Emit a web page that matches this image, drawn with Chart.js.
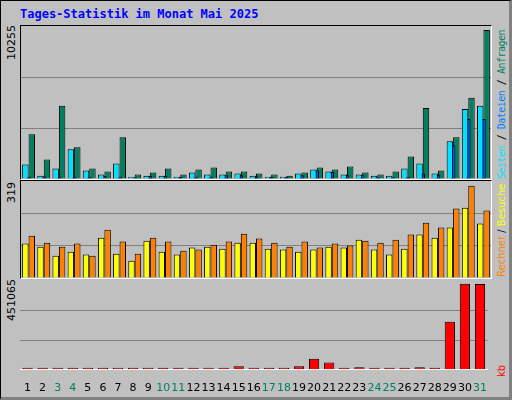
<!DOCTYPE html>
<html>
<head>
<meta charset="utf-8">
<script src="https://cdn.jsdelivr.net/npm/chart.js@4"></script>
<style>
  body { margin: 0; background: #fff; }
  #frame { position: absolute; left: 0; top: 0; width: 508px; height: 396px; background: #c0c0c0;
           border: 1px solid #000; border-right: 3px solid #808080; border-bottom: 3px solid #808080; }
  .panel { position: absolute; left: 19px; width: 470px; border-top: 1px solid #000; border-left: 1px solid #000;
           border-right: 1px solid #fff; border-bottom: 1px solid #fff; }
  .rot { position: absolute; transform-origin: 0 0; transform: rotate(-90deg); white-space: nowrap;
         font: 11px "DejaVu Sans"; }
  #title { position: absolute; left: 19px; top: 6px; font: bold 12px "DejaVu Sans Mono"; color: #0000ff; }
</style>
</head>
<body>
<div id="frame">
  <div id="title">Tages-Statistik im Monat Mai 2025</div>
  <div class="panel" style="top:24px;height:153px"><canvas id="c1" width="470" height="153"></canvas></div>
  <div class="panel" style="top:179px;height:97px"><canvas id="c2" width="470" height="97"></canvas></div>
  <div class="panel" style="top:280px;height:120px;border:none"><canvas id="c3" width="471" height="118"></canvas></div>
  <div class="rot" style="left:4px;top:59px">10255</div>
  <div class="rot" style="left:4px;top:202px">319</div>
  <div class="rot" style="left:4px;top:320px">451065</div>
  <div class="rot" style="left:495px;top:178px;font:10px 'DejaVu Sans Mono';letter-spacing:-0.5px"><span style="color:#00e0ff">Seiten</span> / <span style="color:#0080ff">Dateien</span> / <span style="color:#00805f">Anfragen</span></div>
  <div class="rot" style="left:495px;top:276px;font-size:10px"><span style="color:#ff8000">Rechner</span> / <span style="color:#ffff00">Besuche</span></div>
  <div class="rot" style="left:495px;top:376px;font-size:10px"><span style="color:#ff0000">kb</span></div>
</div>
<script>
const days = Array.from({ length: 31 }, (_, i) => String(i + 1));
const weekend = ["3", "4", "10", "11", "17", "18", "24", "25", "31"];

const anfragen = [3086, 1346, 5035, 2181, 719, 510, 2877, 302, 441, 719, 302, 650, 789, 510, 510, 371,
  302, 232, 441, 789, 650, 858, 441, 302, 510, 1554, 4895, 580, 2877, 5592, 10255];
const dateien = [150, 180, 160, 160, 160, 200, 160, 100, 200, 200, 120, 160, 160, 250, 250, 180,
  150, 120, 250, 600, 480, 250, 250, 160, 160, 160, 371, 250, 2320, 4130, 4130];
const seiten = [998, 232, 719, 2042, 580, 302, 1067, 162, 232, 232, 162, 441, 302, 302, 371, 232,
  162, 162, 371, 650, 510, 302, 302, 232, 232, 719, 1067, 371, 2598, 4826, 5035];

const besuche = [119, 108, 77, 91, 81, 139, 84, 60, 129, 91, 81, 105, 108, 101, 122, 122,
  101, 98, 91, 98, 108, 105, 132, 98, 81, 101, 150, 139, 174, 243, 188];
const rechner = [146, 122, 108, 119, 77, 167, 126, 84, 139, 126, 94, 98, 115, 126, 153, 136,
  122, 108, 126, 105, 119, 112, 129, 122, 132, 150, 191, 174, 240, 319, 233];

const kb = [600, 600, 600, 600, 600, 600, 600, 600, 600, 600, 600, 600, 600, 11000, 18000, 600,
  600, 600, 18000, 57400, 37700, 600, 13000, 600, 600, 600, 13000, 600, 252600, 451065, 450800];

function yAxis(max) {
  return {
    min: 0, max: max,
    afterBuildTicks: s => { s.ticks = [0, max / 3, 2 * max / 3, max].map(v => ({ value: v })); },
    ticks: { display: false },
    border: { display: false },
    grid: { drawTicks: false, lineWidth: 1,
      color: c => (c.index === 1 || c.index === 2) ? "#808080" : "rgba(0,0,0,0)" }
  };
}

const common = {
  responsive: false, animation: false,
  plugins: { legend: { display: false }, tooltip: { enabled: false } },
  layout: { padding: 0 }
};

new Chart(document.getElementById("c1"), {
  type: "bar",
  data: {
    labels: days,
    datasets: [
      { data: anfragen, backgroundColor: "#00805f", borderColor: "#000", borderWidth: 1,
        categoryPercentage: 0.85, barPercentage: 1, order: 2 },
      { data: seiten, backgroundColor: "#00e0ff", borderColor: "#000", borderWidth: 1,
        categoryPercentage: 0.85, barPercentage: 1, order: 0 },
      { data: dateien, grouped: false, backgroundColor: "#0050ff", borderColor: "#000", borderWidth: 1,
        barPercentage: 0.3, categoryPercentage: 1, order: 1 }
    ]
  },
  options: {
    ...common,
    scales: { x: { display: false }, y: yAxis(10530) }
  }
});

new Chart(document.getElementById("c2"), {
  type: "bar",
  data: {
    labels: days,
    datasets: [
      { data: besuche, backgroundColor: "#ffff00", borderColor: "#000", borderWidth: 1,
        categoryPercentage: 0.85, barPercentage: 1 },
      { data: rechner, backgroundColor: "#ff8000", borderColor: "#000", borderWidth: 1,
        categoryPercentage: 0.85, barPercentage: 1 }
    ]
  },
  options: { ...common, scales: { x: { display: false }, y: yAxis(335) } }
});

new Chart(document.getElementById("c3"), {
  type: "bar",
  data: {
    labels: days,
    datasets: [
      { data: kb, backgroundColor: "#ff0000", borderColor: "#000", borderWidth: 1, minBarLength: 2,
        categoryPercentage: 0.85, barPercentage: 0.8 }
    ]
  },
  options: {
    ...common,
    scales: {
      x: {
        border: { display: true, color: "#fff" },
        grid: { display: false },
        ticks: { maxRotation: 0, autoSkip: false, padding: 4,
          color: c => weekend.includes(days[c.index]) ? "#00805f" : "#000",
          font: { family: "DejaVu Sans", size: 11 } }
      },
      y: yAxis(466000)
    }
  }
});
</script>
</body>
</html>
